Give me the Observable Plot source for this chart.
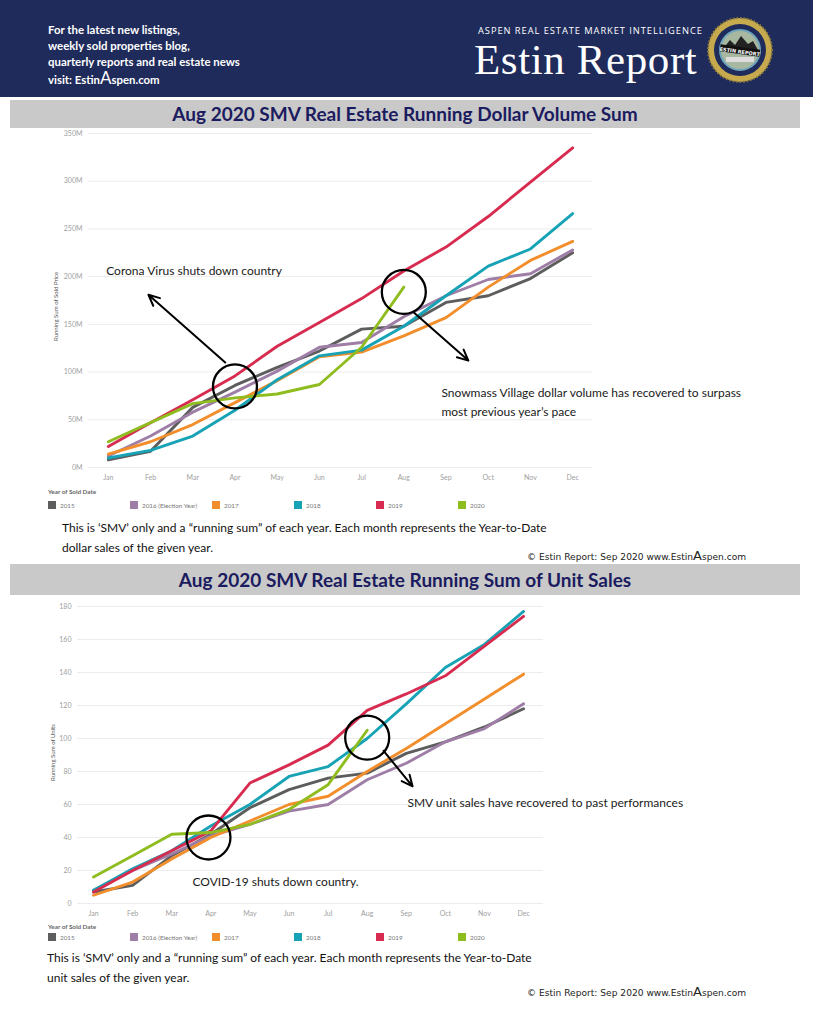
<!DOCTYPE html>
<html>
<head>
<meta charset="utf-8">
<script src="https://cdn.jsdelivr.net/npm/d3@7"></script>
<script src="https://cdn.jsdelivr.net/npm/@observablehq/plot@0.6"></script>
<style>
  html, body { margin: 0; padding: 0; background: #fff; }
  #page { position: relative; width: 813px; height: 1024px; overflow: hidden; font-family: Lato, "Open Sans", sans-serif; }
  .abs { position: absolute; }
  .header { left: 0; top: 0; width: 813px; height: 97px; background: #1e2b5b; }
  .hl { left: 48px; color: #fff; font-size: 11.4px; font-weight: 700; line-height: 16px; top: 22px; }
  .tagline { left: 478px; top: 24px; color: #fff; font-size: 9.3px; letter-spacing: 0.95px; font-family: "Open Sans", sans-serif; }
  .brand { left: 474px; top: 35px; color: #fff; font-family: "Liberation Serif", serif; font-size: 43px; letter-spacing: 0.6px; }
  .bar { left: 10px; width: 790px; background: #c9c9c9; text-align: center; color: #1b1b5f; font-weight: 700; font-size: 19px; }
  .legend-title { left: 48px; font-size: 6.3px; color: #666; font-weight: 700; }
  .legend { left: 48px; display: flex; }
  .legend .it { width: 82px; display: flex; align-items: center; font-size: 6.3px; color: #777; }
  .legend .sw { width: 8px; height: 8px; margin-right: 4px; }
  .cap { font-size: 12px; color: #111; line-height: 20px; }
  .copy { left: 527px; font-family: "DejaVu Sans", sans-serif; font-size: 9.1px; color: #222; }
  .copy b { font-weight: 400; font-size: 13px; font-family: "DejaVu Sans", sans-serif; }
  .ytitle { font-size: 6px; color: #555; transform: rotate(-90deg); transform-origin: left top; white-space: nowrap; }
  .bigA { font-size: 17px; font-weight: 400; }
</style>
</head>
<body>
<div id="page">
  <div class="abs header"></div>
  <div class="abs hl">For the latest new listings,<br>weekly sold properties blog,<br>quarterly reports and real estate news<br>visit: Estin<span class="bigA">A</span>spen.com</div>
  <div class="abs tagline">ASPEN REAL ESTATE MARKET INTELLIGENCE</div>
  <div class="abs brand">Estin Report</div>
  <svg class="abs" style="left:706px;top:16px" width="68" height="68" viewBox="0 0 68 68">
    <circle cx="34" cy="34" r="32" fill="#c8aa4e"/>
    <circle cx="34" cy="34" r="32" fill="none" stroke="#8a7a3a" stroke-width="2" stroke-dasharray="1.5 2"/>
    <circle cx="34" cy="34" r="26" fill="#1e2b5b"/>
    <circle cx="34" cy="34" r="20" fill="#a8b8a0" stroke="#6fa6bd" stroke-width="2"/>
    <path d="M16 34 L24 24 L29 29 L35 20 L42 28 L47 25 L52 34 Z" fill="#222"/>
    <rect x="14" y="31" width="40" height="7" fill="#111" transform="rotate(8 34 34)"/>
    <text x="34" y="37.5" text-anchor="middle" font-size="5" fill="#fff" font-family="DejaVu Sans" font-weight="700" transform="rotate(8 34 34)">ESTIN REPORT</text>
    <rect x="20" y="41" width="28" height="5" fill="#ddd"/>
  </svg>

  <div class="abs bar" style="top:100px;height:28px;line-height:28px">Aug 2020 SMV Real Estate Running Dollar Volume Sum</div>
  <div id="chart1" class="abs" style="left:0;top:125px"></div>
  <div class="abs ytitle" style="left:52px;top:341px">Running Sum of Sold Price</div>
  <div class="abs legend-title" style="top:488px">Year of Sold Date</div>
  <div id="legend1" class="abs legend" style="top:501px"></div>
  <div class="abs cap" style="left:62px;top:518px">This is ‘SMV’ only and a “running sum” of each year. Each month represents the Year-to-Date<br>dollar sales of the given year.</div>
  <div class="abs copy" style="top:548px">© Estin Report: Sep 2020 www.Estin<b>A</b>spen.com</div>

  <div class="abs bar" style="top:564px;height:31px;line-height:31px">Aug 2020 SMV Real Estate Running Sum of Unit Sales</div>
  <div id="chart2" class="abs" style="left:0;top:598px"></div>
  <div class="abs ytitle" style="left:49px;top:781px">Running Sum of Units</div>
  <div class="abs legend-title" style="top:923px">Year of Sold Date</div>
  <div id="legend2" class="abs legend" style="top:933px"></div>
  <div class="abs cap" style="left:47px;top:948px">This is ‘SMV’ only and a “running sum” of each year. Each month represents the Year-to-Date<br>unit sales of the given year.</div>
  <div class="abs copy" style="top:984px">© Estin Report: Sep 2020 www.Estin<b>A</b>spen.com</div>
</div>

<script>
// ---------- data ----------
const months = ["Jan","Feb","Mar","Apr","May","Jun","Jul","Aug","Sep","Oct","Nov","Dec"];
const years = ["2015","2016 (Election Year)","2017","2018","2019","2020"];
const yearColors = ["#5d5d5d","#9e7ea6","#f28e2b","#17a3b5","#d72c50","#8fbd1f"];

// Running dollar volume (millions)
const dollar2015 = [8, 17, 63, 86, 105, 122, 145, 148, 173, 180, 198, 225];
const dollar2016 = [12, 33, 58, 79, 101, 126, 131, 158, 180, 197, 203, 228];
const dollar2017 = [14, 27, 45, 68, 91, 116, 121, 138, 157, 189, 217, 237];
const dollar2018 = [10, 18, 33, 60, 92, 117, 123, 148, 180, 211, 229, 266];
const dollar2019 = [22, 47, 71, 96, 127, 152, 177, 206, 231, 263, 299, 335];
const dollar2020 = [27, 47, 67, 73, 77, 87, 126, 189];
const dollarTicks = [0, 50, 100, 150, 200, 250, 300, 350];

// Running unit sales
const units2015 = [7, 11, 29, 42, 58, 69, 76, 79, 91, 98, 107, 118];
const units2016 = [8, 20, 30, 41, 48, 56, 60, 75, 85, 98, 106, 121];
const units2017 = [5, 13, 27, 40, 50, 60, 65, 80, 94, 109, 124, 139];
const units2018 = [8, 21, 32, 47, 60, 77, 83, 100, 121, 143, 157, 177];
const units2019 = [7, 20, 32, 44, 73, 84, 96, 117, 127, 138, 156, 174];
const units2020 = [16, 29, 42, 43, 48, 57, 72, 105];
const unitTicks = [0, 20, 40, 60, 80, 100, 120, 140, 160, 180];

// annotation anchors (month index, value)
const dollarNotes = {
  circles: [{i: 3, v: 85}, {i: 7, v: 184}],
  arrows: [{i1: 2.77, v1: 110, i2: 0.95, v2: 181}, {i1: 7.25, v1: 162, i2: 8.53, v2: 112}],
  texts: [
    {i: -0.05, v: 206, t: "Corona Virus shuts down country"},
    {i: 7.89, v: 78, t: "Snowmass Village dollar volume has recovered to surpass"},
    {i: 7.89, v: 58, t: "most previous year’s pace"}
  ]
};
const unitNotes = {
  circles: [{i: 2.94, v: 40}, {i: 7, v: 100.5}],
  arrows: [{i1: 7.42, v1: 92.5, i2: 8.16, v2: 71}],
  texts: [
    {i: 2.53, v: 13, t: "COVID-19 shuts down country."},
    {i: 8.03, v: 61, t: "SMV unit sales have recovered to past performances"}
  ]
};

function longData(series) {
  const out = [];
  series.forEach((vals, k) => vals.forEach((v, i) => out.push({i, v, year: years[k]})));
  return out;
}

function makeChart({series, ticks, tickFmt, xDomain, height, mt, mb, ml, mr, notes, rx}) {
  const data = longData(series);
  return Plot.plot({
    width: 813,
    height,
    marginTop: mt, marginBottom: mb, marginLeft: ml, marginRight: mr,
    style: {fontFamily: "Lato, sans-serif", fontSize: "7px", color: "#a0a0a0", background: "transparent", overflow: "visible"},
    x: {type: "linear", domain: xDomain, axis: null},
    y: {domain: [ticks[0], ticks[ticks.length - 1]], axis: null},
    color: {domain: years, range: yearColors},
    marks: [
      Plot.gridY(ticks, {stroke: "#ececec", strokeOpacity: 1}),
      Plot.axisY(ticks, {tickSize: 0, tickPadding: 6, tickFormat: tickFmt, label: null, fill: "#a0a0a0"}),
      Plot.axisX(d3.range(months.length), {tickSize: 0, tickPadding: 8, tickFormat: i => months[i], label: null, fill: "#a0a0a0"}),
      Plot.line(data, {x: "i", y: "v", z: "year", stroke: "year", strokeWidth: 2.9, strokeLinejoin: "round", strokeLinecap: "round"}),
      Plot.dot(notes.circles, {x: "i", y: "v", r: rx, stroke: "#000", strokeWidth: 2.3, fill: "none"}),
      Plot.arrow(notes.arrows, {x1: "i1", y1: "v1", x2: "i2", y2: "v2", stroke: "#000", strokeWidth: 2, headLength: 9, headAngle: 50}),
      Plot.text(notes.texts, {x: "i", y: "v", text: "t", textAnchor: "start", fontSize: 12, fill: "#1a1a1a"})
    ]
  });
}

document.getElementById("chart1").appendChild(makeChart({
  series: [dollar2015, dollar2016, dollar2017, dollar2018, dollar2019, dollar2020],
  ticks: dollarTicks, tickFmt: d => d + "M", xDomain: [-0.47, 11.47],
  height: 365, mt: 8, mb: 23, ml: 88, mr: 221, notes: dollarNotes, rx: 22
}));

document.getElementById("chart2").appendChild(makeChart({
  series: [units2015, units2016, units2017, units2018, units2019, units2020],
  ticks: unitTicks, tickFmt: d => String(d), xDomain: [-0.41, 11.51],
  height: 325, mt: 8, mb: 20, ml: 77, mr: 270, notes: unitNotes, rx: 22
}));

for (const id of ["legend1", "legend2"]) {
  const el = document.getElementById(id);
  years.forEach((y, k) => {
    const it = document.createElement("div");
    it.className = "it";
    it.innerHTML = `<span class="sw" style="background:${yearColors[k]}"></span><span>${y}</span>`;
    el.appendChild(it);
  });
}
</script>
</body>
</html>
